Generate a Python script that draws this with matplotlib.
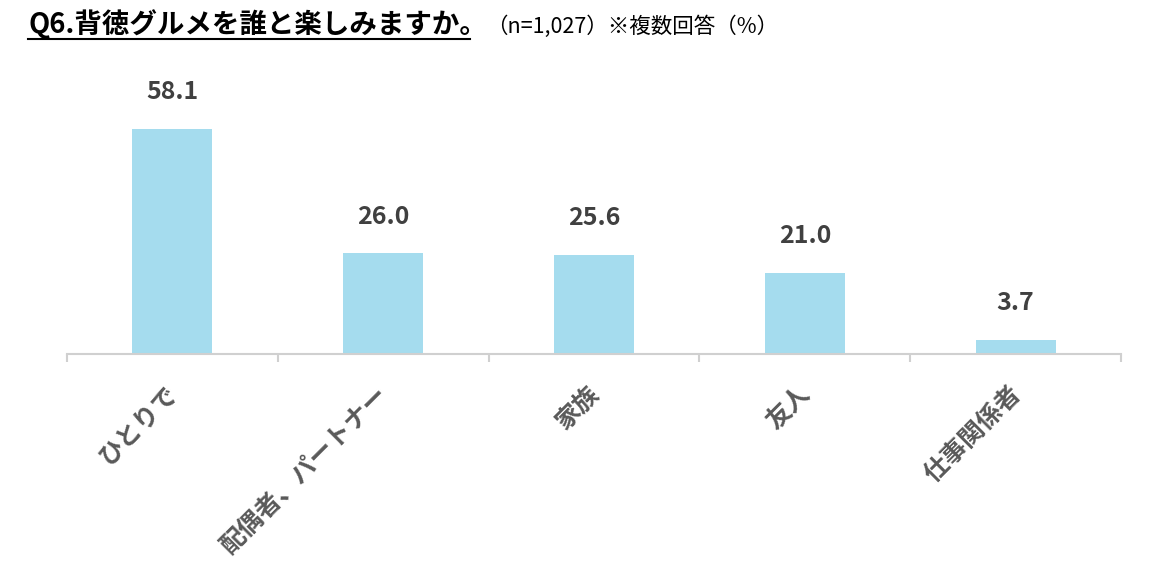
import matplotlib
matplotlib.use('Agg')
import matplotlib.pyplot as plt
from matplotlib.lines import Line2D

plt.rcParams['font.family'] = ['Noto Sans CJK JP', 'DejaVu Sans']

categories = ['ひとりで', '配偶者、パートナー', '家族', '友人', '仕事関係者']
values = [58.1, 26.0, 25.6, 21.0, 3.7]

fig = plt.figure(figsize=(11.68, 5.76), dpi=100)
ax = fig.add_axes([67 / 1168, 1 - 354 / 576, (1121 - 67) / 1168, 271 / 576])

x = range(len(categories))
bars = ax.bar(x, values, width=0.38, color='#a5dcee', zorder=2)
for b, v in zip(bars, values):
    ax.text(b.get_x() + b.get_width() / 2, v + 9.5, f'{v:.1f}', ha='center', va='center',
            fontsize=18, fontweight='bold', color='#404040')

ax.set_xlim(-0.5, len(categories) - 0.5)
ax.set_ylim(0, 70)
ax.set_yticks([])
for s in ['top', 'right', 'left']:
    ax.spines[s].set_visible(False)
ax.spines['bottom'].set_color('#d0d0d0')
ax.spines['bottom'].set_linewidth(1.5)

ax.set_xticks([i - 0.5 for i in range(len(categories) + 1)])
ax.set_xticklabels([])
ax.tick_params(axis='x', direction='out', length=6, color='#d0d0d0', width=1.5)
for i, c in enumerate(categories):
    ax.annotate(c, xy=(i, 0), xycoords='data', xytext=(-5, -20), textcoords='offset points',
                rotation=45, ha='right', va='top', rotation_mode='anchor',
                fontsize=18, fontweight='bold', color='#595959')

t = fig.text(28 / 1168, 1 - 24 / 576, 'Q6.背徳グルメを誰と楽しみますか。', fontsize=19.8,
             fontweight='bold', color='#000000', va='center')
fig.text(486 / 1168, 1 - 27 / 576, '（n=1,027）※複数回答（%）', fontsize=15.5,
         color='#000000', va='center')

fig.canvas.draw()
bb = t.get_window_extent().transformed(fig.transFigure.inverted())
fig.add_artist(Line2D([bb.x0, 470 / 1168], [1 - 39 / 576, 1 - 39 / 576],
                      transform=fig.transFigure, color='black', lw=1.5))

fig.savefig('out.png', dpi=100)
